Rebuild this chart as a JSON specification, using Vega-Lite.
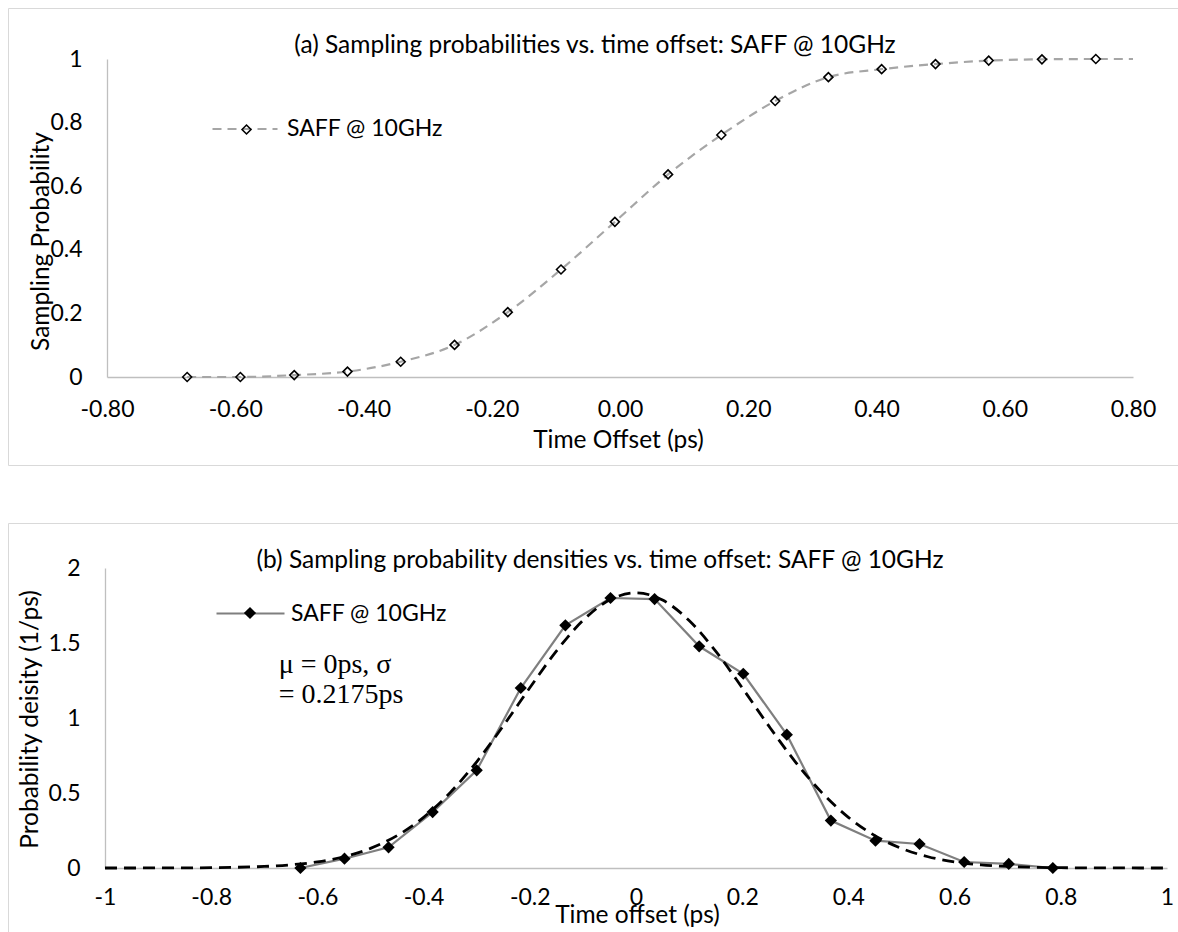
{
  "$schema": "https://vega.github.io/schema/vega-lite/v6.json",
  "background": "white",
  "padding": {"left": 7, "top": 7, "right": 0, "bottom": 0},
  "spacing": 56,
  "resolve": {"legend": {"color": "independent", "shape": "independent", "strokeDash": "independent"}, "scale": {"color": "independent", "shape": "independent", "strokeDash": "independent"}},
  "config": {
    "view": {"stroke": "#d9d9d9", "strokeWidth": 1},
    "font": "Lato",
    "axis": {"grid": false, "ticks": false, "tickSize": 0, "domainColor": "#bfbfbf", "domainWidth": 1.3, "labelFont": "Lato", "labelFontSize": 23, "labelColor": "#000000", "titleFont": "Lato", "titleFontSize": 24.5, "titleFontWeight": "normal", "titleColor": "#000000", "labelFlush": false, "labelOverlap": false, "labelBound": false},
    "title": {"font": "Lato", "fontSize": 24.5, "fontWeight": "normal", "color": "#000000"},
    "legend": {"labelFont": "Lato", "labelFontSize": 23, "labelColor": "#000000", "padding": 0, "title": null}
  },
  "datasets": {
    "cdf": [
      {"t": -0.675, "p": 0.0, "series": "SAFF @ 10GHz"},
      {"t": -0.592, "p": 0.0, "series": "SAFF @ 10GHz"},
      {"t": -0.508, "p": 0.006, "series": "SAFF @ 10GHz"},
      {"t": -0.425, "p": 0.017, "series": "SAFF @ 10GHz"},
      {"t": -0.342, "p": 0.048, "series": "SAFF @ 10GHz"},
      {"t": -0.258, "p": 0.101, "series": "SAFF @ 10GHz"},
      {"t": -0.175, "p": 0.204, "series": "SAFF @ 10GHz"},
      {"t": -0.092, "p": 0.338, "series": "SAFF @ 10GHz"},
      {"t": -0.008, "p": 0.488, "series": "SAFF @ 10GHz"},
      {"t": 0.075, "p": 0.637, "series": "SAFF @ 10GHz"},
      {"t": 0.158, "p": 0.761, "series": "SAFF @ 10GHz"},
      {"t": 0.242, "p": 0.868, "series": "SAFF @ 10GHz"},
      {"t": 0.325, "p": 0.943, "series": "SAFF @ 10GHz"},
      {"t": 0.408, "p": 0.968, "series": "SAFF @ 10GHz"},
      {"t": 0.492, "p": 0.984, "series": "SAFF @ 10GHz"},
      {"t": 0.575, "p": 0.995, "series": "SAFF @ 10GHz"},
      {"t": 0.658, "p": 0.999, "series": "SAFF @ 10GHz"},
      {"t": 0.742, "p": 1.0, "series": "SAFF @ 10GHz"},
      {"t": 0.8, "p": 1.0, "series": "SAFF @ 10GHz"}
    ],
    "pdf": [
      {"t": -0.632, "d": 0.0, "series": "SAFF @ 10GHz"},
      {"t": -0.549, "d": 0.062, "series": "SAFF @ 10GHz"},
      {"t": -0.466, "d": 0.138, "series": "SAFF @ 10GHz"},
      {"t": -0.383, "d": 0.373, "series": "SAFF @ 10GHz"},
      {"t": -0.3, "d": 0.651, "series": "SAFF @ 10GHz"},
      {"t": -0.217, "d": 1.2, "series": "SAFF @ 10GHz"},
      {"t": -0.133, "d": 1.618, "series": "SAFF @ 10GHz"},
      {"t": -0.048, "d": 1.8, "series": "SAFF @ 10GHz"},
      {"t": 0.035, "d": 1.793, "series": "SAFF @ 10GHz"},
      {"t": 0.119, "d": 1.478, "series": "SAFF @ 10GHz"},
      {"t": 0.202, "d": 1.295, "series": "SAFF @ 10GHz"},
      {"t": 0.284, "d": 0.889, "series": "SAFF @ 10GHz"},
      {"t": 0.367, "d": 0.316, "series": "SAFF @ 10GHz"},
      {"t": 0.451, "d": 0.182, "series": "SAFF @ 10GHz"},
      {"t": 0.534, "d": 0.16, "series": "SAFF @ 10GHz"},
      {"t": 0.618, "d": 0.04, "series": "SAFF @ 10GHz"},
      {"t": 0.702, "d": 0.027, "series": "SAFF @ 10GHz"},
      {"t": 0.785, "d": 0.0, "series": "SAFF @ 10GHz"}
    ],
    "gauss": [
      {"t": -1.0, "g": 0.0},
      {"t": -0.95, "g": 0.0001},
      {"t": -0.9, "g": 0.0004},
      {"t": -0.85, "g": 0.0009},
      {"t": -0.8, "g": 0.0021},
      {"t": -0.75, "g": 0.0048},
      {"t": -0.7, "g": 0.0103},
      {"t": -0.65, "g": 0.0211},
      {"t": -0.6, "g": 0.0408},
      {"t": -0.55, "g": 0.0749},
      {"t": -0.5, "g": 0.1306},
      {"t": -0.45, "g": 0.2157},
      {"t": -0.4, "g": 0.338},
      {"t": -0.35, "g": 0.5025},
      {"t": -0.3, "g": 0.7083},
      {"t": -0.25, "g": 0.9474},
      {"t": -0.2, "g": 1.2016},
      {"t": -0.15, "g": 1.4459},
      {"t": -0.1, "g": 1.65},
      {"t": -0.05, "g": 1.7862},
      {"t": 0.0, "g": 1.834},
      {"t": 0.05, "g": 1.7862},
      {"t": 0.1, "g": 1.65},
      {"t": 0.15, "g": 1.4459},
      {"t": 0.2, "g": 1.2016},
      {"t": 0.25, "g": 0.9474},
      {"t": 0.3, "g": 0.7083},
      {"t": 0.35, "g": 0.5025},
      {"t": 0.4, "g": 0.338},
      {"t": 0.45, "g": 0.2157},
      {"t": 0.5, "g": 0.1306},
      {"t": 0.55, "g": 0.0749},
      {"t": 0.6, "g": 0.0408},
      {"t": 0.65, "g": 0.0211},
      {"t": 0.7, "g": 0.0103},
      {"t": 0.75, "g": 0.0048},
      {"t": 0.8, "g": 0.0021},
      {"t": 0.85, "g": 0.0009},
      {"t": 0.9, "g": 0.0004},
      {"t": 0.95, "g": 0.0001},
      {"t": 1.0, "g": 0.0}
    ],
    "note": [
      {"t": -0.673, "d": 1.255, "line1": "μ = 0ps, σ", "line2": "= 0.2175ps"}
    ]
  },
  "vconcat": [
    {
      "width": 1170,
      "height": 457,
      "title": {"text": "(a) Sampling probabilities vs. time offset: SAFF @ 10GHz", "anchor": "middle", "frame": "group", "offset": -62, "baseline": "middle", "dx": 2},
      "data": {"name": "cdf"},
      "encoding": {
        "x": {"field": "t", "type": "quantitative",
          "scale": {"domain": [-0.8, 0.8], "range": [99, 1125], "nice": false, "zero": false},
          "axis": {"orient": "bottom", "offset": -88, "values": [-0.8, -0.6, -0.4, -0.2, 0, 0.2, 0.4, 0.6, 0.8],
            "labelExpr": "replace(format(datum.value, '.2f'), '−', '-')", "labelPadding": 21,
            "title": "Time Offset (ps)", "titleX": 610, "titleY": 63, "titleAlign": "center", "titleBaseline": "middle"}},
        "y": {"field": "p", "type": "quantitative",
          "scale": {"domain": [0, 1], "range": [369, 51], "nice": false, "zero": false},
          "axis": {"orient": "left", "offset": -99, "values": [0, 0.2, 0.4, 0.6, 0.8, 1], "format": "~g", "labelPadding": 25,
            "title": "Sampling Probability", "titleX": -66, "titleY": 233, "titleAngle": 270, "titleAlign": "center", "titleBaseline": "middle"}}
      },
      "layer": [
        {
          "mark": {"type": "line", "color": "#a6a6a6", "strokeWidth": 2.2, "interpolate": "monotone"},
          "encoding": {
            "strokeDash": {"field": "series", "type": "nominal", "scale": {"range": [[9, 6]]},
              "legend": {"orient": "none", "legendX": 203, "legendY": 87, "symbolType": "stroke", "symbolSize": 4225, "symbolStrokeWidth": 2.2, "symbolStrokeColor": "#a6a6a6", "labelOffset": 8}}
          }
        },
        {
          "transform": [{"filter": "datum.t < 0.79"}],
          "mark": {"type": "point", "filled": false, "color": "black", "strokeWidth": 1.6, "size": 80, "opacity": 1},
          "encoding": {
            "shape": {"field": "series", "type": "nominal", "scale": {"range": ["diamond"]},
              "legend": {"orient": "none", "legendX": 233, "legendY": 116, "symbolSize": 80, "symbolStrokeColor": "black", "symbolStrokeWidth": 1.6, "symbolFillColor": "transparent", "labelOpacity": 0, "labelFontSize": 1}}
          }
        }
      ]
    },
    {
      "width": 1170,
      "height": 410,
      "title": {"text": "(b) Sampling probability densities vs. time offset: SAFF @ 10GHz", "anchor": "middle", "frame": "group", "offset": -62, "baseline": "middle", "dx": 7},
      "resolve": {"legend": {"color": "independent", "shape": "independent"}},
      "layer": [
        {
          "data": {"name": "pdf"},
          "mark": {"type": "line", "strokeWidth": 2.2},
          "encoding": {
            "x": {"field": "t", "type": "quantitative",
              "scale": {"domain": [-1, 1], "range": [97, 1159], "nice": false, "zero": false},
              "axis": {"orient": "bottom", "offset": -65, "values": [-1, -0.8, -0.6, -0.4, -0.2, 0, 0.2, 0.4, 0.6, 0.8, 1],
                "labelExpr": "replace(format(datum.value, '~g'), '−', '-')", "labelPadding": 18,
                "title": "Time offset (ps)", "titleX": 629, "titleY": 47, "titleAlign": "center", "titleBaseline": "middle"}},
            "y": {"field": "d", "type": "quantitative",
              "scale": {"domain": [0, 2], "range": [345, 45], "nice": false, "zero": false},
              "axis": {"orient": "left", "offset": -97, "values": [0, 0.5, 1, 1.5, 2], "format": "~g", "labelPadding": 25,
                "title": "Probability deisity (1/ps)", "titleX": -75, "titleY": 196, "titleAngle": 270, "titleAlign": "center", "titleBaseline": "middle"}},
            "color": {"field": "series", "type": "nominal", "scale": {"range": ["#7f7f7f"]},
              "legend": {"orient": "none", "legendX": 207, "legendY": 55, "symbolType": "stroke", "symbolSize": 4624, "symbolStrokeWidth": 2.2, "labelOffset": 5}}
          }
        },
        {
          "data": {"name": "gauss"},
          "mark": {"type": "line", "color": "black", "strokeWidth": 2.8, "strokeDash": [12, 7], "interpolate": "monotone"},
          "encoding": {
            "x": {"field": "t", "type": "quantitative"},
            "y": {"field": "g", "type": "quantitative"}
          }
        },
        {
          "data": {"name": "pdf"},
          "transform": [{"filter": "datum.d >= 0"}],
          "mark": {"type": "point", "filled": true, "color": "black", "size": 150, "opacity": 1},
          "encoding": {
            "x": {"field": "t", "type": "quantitative"},
            "y": {"field": "d", "type": "quantitative"},
            "shape": {"field": "series", "type": "nominal", "scale": {"range": ["diamond"]},
              "legend": {"orient": "none", "legendX": 235, "legendY": 83, "symbolSize": 150, "symbolFillColor": "black", "symbolStrokeColor": "black", "labelOpacity": 0, "labelFontSize": 1}}
          }
        },
        {
          "data": {"name": "note"},
          "mark": {"type": "text", "align": "left", "baseline": "middle", "font": "Liberation Serif", "fontSize": 28, "dy": -15, "color": "black"},
          "encoding": {
            "x": {"field": "t", "type": "quantitative"},
            "y": {"field": "d", "type": "quantitative"},
            "text": {"field": "line1", "type": "nominal"}
          }
        },
        {
          "data": {"name": "note"},
          "mark": {"type": "text", "align": "left", "baseline": "middle", "font": "Liberation Serif", "fontSize": 28, "dy": 15, "color": "black"},
          "encoding": {
            "x": {"field": "t", "type": "quantitative"},
            "y": {"field": "d", "type": "quantitative"},
            "text": {"field": "line2", "type": "nominal"}
          }
        }
      ]
    }
  ]
}
